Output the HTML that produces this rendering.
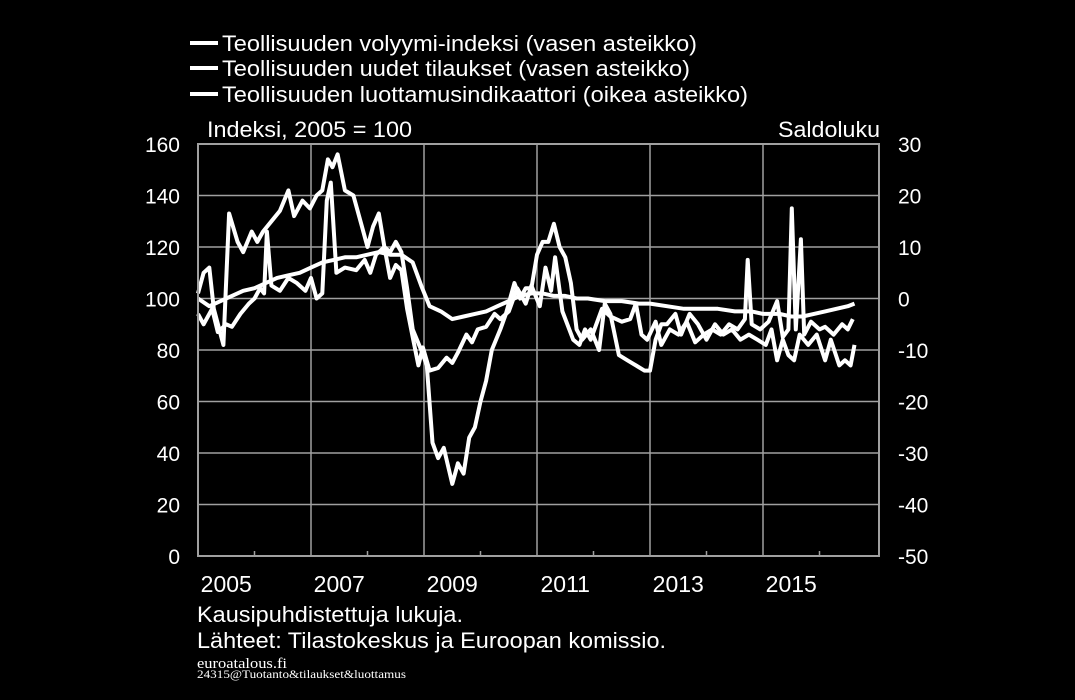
<!DOCTYPE html>
<html><head><meta charset="utf-8">
<style>
html,body{margin:0;padding:0;background:#000;}
svg{display:block;font-family:"Liberation Sans",sans-serif;}
</style></head>
<body>
<svg id="chart" width="1075" height="700" viewBox="0 0 1075 700" xmlns="http://www.w3.org/2000/svg">
<rect x="0" y="0" width="1075" height="700" fill="#000"/>
<g id="grid"></g>
<g id="series"></g>
<g id="axes"></g>
<g fill="#fff" font-size="22">
 <g><line x1="190" y1="43" x2="218" y2="43" stroke="#fff" stroke-width="4"/><text x="222" y="51" textLength="475" lengthAdjust="spacingAndGlyphs">Teollisuuden volyymi-indeksi (vasen asteikko)</text></g>
 <g><line x1="190" y1="68" x2="218" y2="68" stroke="#fff" stroke-width="4"/><text x="222" y="76" textLength="468" lengthAdjust="spacingAndGlyphs">Teollisuuden uudet tilaukset (vasen asteikko)</text></g>
 <g><line x1="190" y1="94" x2="218" y2="94" stroke="#fff" stroke-width="4"/><text x="222" y="102" textLength="526" lengthAdjust="spacingAndGlyphs">Teollisuuden luottamusindikaattori (oikea asteikko)</text></g>
</g>
<text x="207" y="137" fill="#fff" font-size="22" textLength="205" lengthAdjust="spacingAndGlyphs">Indeksi, 2005 = 100</text>
<text x="778" y="137" fill="#fff" font-size="22" textLength="102" lengthAdjust="spacingAndGlyphs">Saldoluku</text>
<text x="197" y="622" fill="#fff" font-size="22" textLength="266" lengthAdjust="spacingAndGlyphs">Kausipuhdistettuja lukuja.</text>
<text x="197" y="648" fill="#fff" font-size="22" textLength="469" lengthAdjust="spacingAndGlyphs">Lähteet: Tilastokeskus ja Euroopan komissio.</text>
<text x="197" y="668" fill="#fff" font-size="15" font-family="Liberation Serif, serif" textLength="90" lengthAdjust="spacingAndGlyphs">euroatalous.fi</text>
<text x="197" y="678" fill="#fff" font-size="12" font-family="Liberation Serif, serif" textLength="209" lengthAdjust="spacingAndGlyphs">24315@Tuotanto&amp;tilaukset&amp;luottamus</text>
</svg>
<script>
const leftTicks=[0,20,40,60,80,100,120,140,160];
const rightTicks=[-50,-40,-30,-20,-10,0,10,20,30];
const yearLabels=[2005,2007,2009,2011,2013,2015];
const volDates=[2005.0,2005.2,2005.4,2005.6,2005.8,2006.0,2006.2,2006.4,2006.6,2006.8,2007.0,2007.2,2007.4,2007.6,2007.8,2008.0,2008.2,2008.4,2008.6,2008.8,2008.95,2009.1,2009.3,2009.5,2009.7,2009.9,2010.1,2010.3,2010.5,2010.7,2010.9,2011.1,2011.3,2011.5,2011.7,2011.9,2012.2,2012.5,2012.8,2013.0,2013.3,2013.6,2013.9,2014.2,2014.5,2014.8,2015.0,2015.3,2015.5,2015.7,2015.9,2016.1,2016.3,2016.5,2016.62];
const volValues=[100,97,99,101,103,104,106,108,109,110,112,114,115,116,116,117,118,117,117,114,105,97,95,92,93,94,95,97,99,101,102,102,101,101,100,100,99,99,98,98,97,96,96,96,95,95,94,94,93,93,94,95,96,97,98];
const ordDates=[2005.0,2005.1,2005.25,2005.35,2005.5,2005.6,2005.75,2005.9,2006.0,2006.1,2006.17,2006.22,2006.3,2006.45,2006.6,2006.75,2006.9,2007.0,2007.1,2007.2,2007.28,2007.35,2007.45,2007.6,2007.8,2007.95,2008.05,2008.15,2008.3,2008.4,2008.5,2008.6,2008.7,2008.8,2008.9,2008.98,2009.1,2009.25,2009.4,2009.5,2009.6,2009.75,2009.85,2009.95,2010.1,2010.25,2010.35,2010.5,2010.65,2010.8,2010.9,2011.05,2011.15,2011.25,2011.32,2011.45,2011.64,2011.75,2011.85,2011.95,2012.05,2012.15,2012.3,2012.4,2012.5,2012.65,2012.75,2012.85,2012.95,2013.1,2013.2,2013.35,2013.5,2013.65,2013.8,2013.95,2014.1,2014.25,2014.4,2014.55,2014.68,2014.73,2014.8,2014.95,2015.1,2015.25,2015.35,2015.45,2015.51,2015.58,2015.67,2015.73,2015.85,2016.0,2016.1,2016.25,2016.4,2016.5,2016.59];
const ordValues=[94,90,96,87,90,89,94,98,100,104,102,126,105,103,108,106,103,108,100,102,138,145,110,112,111,115,110,117,120,108,113,111,96,85,74,81,72,73,77,75,79,86,83,88,89,94,92,95,104,98,105,97,112,103,116,95,84,82,88,84,90,96,93,92,91,92,98,86,84,91,82,88,86,91,83,86,88,86,90,88,92,115,90,88,91,99,85,88,135,88,123,86,91,88,89,86,90,88,92];
const confDates=[2005.0,2005.1,2005.2,2005.28,2005.45,2005.55,2005.7,2005.8,2005.95,2006.05,2006.15,2006.3,2006.45,2006.6,2006.7,2006.85,2006.98,2007.1,2007.2,2007.3,2007.38,2007.47,2007.6,2007.75,2007.9,2008.0,2008.1,2008.2,2008.3,2008.4,2008.5,2008.6,2008.7,2008.8,2008.95,2009.05,2009.15,2009.25,2009.35,2009.5,2009.6,2009.7,2009.8,2009.9,2010.0,2010.1,2010.2,2010.35,2010.45,2010.6,2010.7,2010.8,2010.9,2011.0,2011.1,2011.2,2011.3,2011.4,2011.5,2011.6,2011.7,2011.8,2011.95,2012.1,2012.2,2012.3,2012.45,2012.6,2012.75,2012.9,2013.0,2013.1,2013.2,2013.3,2013.45,2013.55,2013.7,2013.85,2014.0,2014.15,2014.3,2014.45,2014.6,2014.75,2014.9,2015.05,2015.15,2015.25,2015.35,2015.45,2015.55,2015.65,2015.8,2015.95,2016.1,2016.2,2016.35,2016.45,2016.55,2016.62];
const confValues=[1,5,6,-2,-9,16.5,11,9,13,11,13,15,17,21,16,19,17.5,20,21,27,25.5,28,21,20,14,10,14,16.5,10,9,11,9,2,-6,-10,-13,-28,-31,-29,-36,-32,-34,-27,-25,-20,-16,-10,-6,-3,3,0,2,2,8.5,11,11,14.5,10,8,3,-6,-8,-6,-10,-1,-3,-11,-12,-13,-14,-14,-8,-5,-5,-3,-7,-3,-5,-8,-5,-7,-6,-8,-7,-8,-9,-6,-12,-8,-11,-12,-7,-9,-7,-12,-8,-13,-12,-13,-9];

const NS='http://www.w3.org/2000/svg';
const X0=198,X1=879,Y0=556,Y1=144;
const xScale=t=>X0+(t-2005)*56.5;
const yLeft=v=>Y0-(v-0)/160*(Y0-Y1);
const yRight=v=>Y0-(v+50)/80*(Y0-Y1);
function mk(tag,attrs,parent){const e=document.createElementNS(NS,tag);for(const k in attrs)e.setAttribute(k,attrs[k]);parent.appendChild(e);return e;}
const grid=document.getElementById('grid'),axes=document.getElementById('axes'),series=document.getElementById('series');
leftTicks.forEach(v=>{
  const l=mk('line',{x1:X0,x2:X1,y1:yLeft(v),y2:yLeft(v),stroke:'#a0a0a0','stroke-width':1.5},grid);
  
  
  const t=mk('text',{x:180,y:yLeft(v)+8,fill:'#fff','font-size':21,'text-anchor':'end'},axes);
  t.textContent=v;
  
  
});
rightTicks.forEach(v=>{
  const t=mk('text',{x:898,y:yRight(v)+8,fill:'#fff','font-size':21},axes);
  t.textContent=v;
  
  
});
for(let y=2007;y<=2015;y+=2){
  const l=mk('line',{x1:xScale(y),x2:xScale(y),y1:Y1,y2:Y0,stroke:'#a0a0a0','stroke-width':1.5},grid);
  
  
}
for(let y=2006;y<=2016;y+=2){
  const l=mk('line',{x1:xScale(y),x2:xScale(y),y1:Y0-5,y2:Y0,stroke:'#a0a0a0','stroke-width':1.5},axes);
  
  
}
yearLabels.forEach(y=>{
  const t=mk('text',{x:xScale(y+0.5),y:592,fill:'#fff','font-size':23,'text-anchor':'middle'},axes);
  t.textContent=y;
  
  
});
const fr=mk('rect',{x:X0,y:Y1,width:X1-X0,height:Y0-Y1,fill:'none',stroke:'#a0a0a0','stroke-width':2},axes);


function draw(d,v,ys,name){
  const pts=d.map((t,i)=>xScale(t).toFixed(1)+','+ys(v[i]).toFixed(1)).join(' ');
  const p=mk('polyline',{points:pts,fill:'none',stroke:'#fff','stroke-width':4,'stroke-linejoin':'round'},series);
  
  
}
draw(volDates,volValues,yLeft,'volume-index-line');
draw(ordDates,ordValues,yLeft,'new-orders-line');
draw(confDates,confValues,yRight,'confidence-indicator-line');
</script>
</body></html>
